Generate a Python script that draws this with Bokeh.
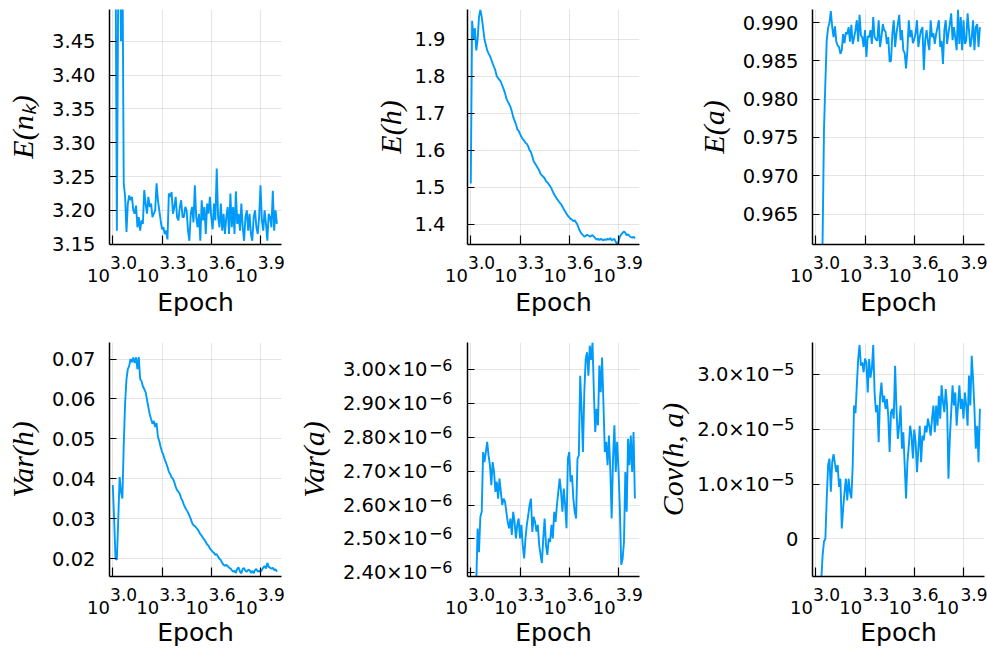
from bokeh.plotting import figure
from bokeh.layouts import row, column
from bokeh.models import Range1d, FixedTicker, LinearAxis, LogAxis
from bokeh.embed import file_html
from bokeh.resources import INLINE

# ---------------- data ----------------
epochs = [1000, 1019, 1039, 1059, 1080, 1101, 1122, 1144, 1166, 1189,
          1212, 1235, 1259, 1283, 1308, 1334, 1359, 1386, 1413, 1440,
          1468, 1496, 1525, 1555, 1585, 1616, 1647, 1679, 1711, 1745,
          1778, 1813, 1848, 1884, 1920, 1957, 1995, 2034, 2073, 2114,
          2154, 2196, 2239, 2282, 2326, 2371, 2417, 2464, 2512, 2561,
          2610, 2661, 2712, 2765, 2818, 2873, 2929, 2985, 3043, 3102,
          3162, 3224, 3286, 3350, 3415, 3481, 3548, 3617, 3687, 3758,
          3831, 3905, 3981, 4058, 4137, 4217, 4299, 4382, 4467, 4553,
          4642, 4732, 4823, 4917, 5012, 5109, 5208, 5309, 5412, 5517,
          5623, 5732, 5843, 5957, 6072, 6190, 6310, 6432, 6556, 6683,
          6813, 6945, 7079, 7217, 7356, 7499, 7644, 7792, 7943, 8097,
          8254, 8414, 8577, 8743, 8913, 9085, 9261, 9441, 9624, 9810,
          10000]

e_nk = [3.62, 3.58, 3.60, 3.17, 3.55, 3.62, 3.45, 3.60, 3.24, 3.22,
        3.168, 3.21, 3.222, 3.215, 3.22, 3.20, 3.195, 3.207, 3.175, 3.19,
        3.17, 3.185, 3.18, 3.23, 3.21, 3.195, 3.22, 3.205, 3.21, 3.19,
        3.195, 3.20, 3.24, 3.215, 3.20, 3.185, 3.172, 3.175, 3.165, 3.17,
        3.157, 3.225, 3.22, 3.227, 3.195, 3.205, 3.22, 3.19, 3.185, 3.205,
        3.215, 3.19, 3.19, 3.205, 3.20, 3.17, 3.155, 3.195, 3.205, 3.182,
        3.237, 3.19, 3.175, 3.195, 3.155, 3.215, 3.185, 3.205, 3.165, 3.21,
        3.195, 3.22, 3.19, 3.172, 3.21, 3.185, 3.262, 3.19, 3.175, 3.21,
        3.17, 3.195, 3.165, 3.19, 3.205, 3.165, 3.225, 3.175, 3.205, 3.165,
        3.228, 3.18, 3.195, 3.17, 3.21, 3.175, 3.155, 3.19, 3.20, 3.17,
        3.195, 3.165, 3.155, 3.19, 3.20, 3.175, 3.165, 3.19, 3.237, 3.185,
        3.17, 3.20, 3.18, 3.155, 3.195, 3.19, 3.175, 3.229, 3.17, 3.20,
        3.18]

e_h = [1.51, 1.95, 1.90, 1.93, 1.87, 1.90, 1.96, 1.98, 1.96, 1.93,
       1.90, 1.885, 1.87, 1.862, 1.855, 1.845, 1.835, 1.825, 1.815, 1.80,
       1.795, 1.79, 1.785, 1.775, 1.765, 1.755, 1.74, 1.732, 1.725, 1.717,
       1.705, 1.69, 1.68, 1.67, 1.657, 1.652, 1.644, 1.636, 1.630, 1.626,
       1.62, 1.617, 1.61, 1.60, 1.595, 1.583, 1.57, 1.564, 1.558, 1.552,
       1.545, 1.536, 1.532, 1.528, 1.524, 1.516, 1.513, 1.508, 1.502, 1.496,
       1.488, 1.48, 1.474, 1.468, 1.463, 1.458, 1.454, 1.447, 1.44, 1.434,
       1.428, 1.422, 1.418, 1.414, 1.412, 1.408, 1.41, 1.404, 1.398, 1.388,
       1.38, 1.374, 1.370, 1.366, 1.368, 1.371, 1.369, 1.366, 1.368, 1.370,
       1.366, 1.362, 1.358, 1.36, 1.357, 1.360, 1.358, 1.356, 1.359, 1.357,
       1.360, 1.358, 1.362, 1.356, 1.358, 1.360, 1.352, 1.346, 1.352, 1.366,
       1.372, 1.376, 1.380, 1.376, 1.370, 1.372, 1.368, 1.365, 1.363, 1.366,
       1.361]

e_a = [0.930, 0.935, 0.940, 0.945, 0.952, 0.962, 0.976, 0.9822, 0.9877, 0.9893,
       0.9900, 0.9915, 0.9894, 0.9881, 0.9895, 0.9875, 0.9870, 0.9868, 0.9859, 0.9864,
       0.9885, 0.9873, 0.9887, 0.9885, 0.9894, 0.9875, 0.9897, 0.9872, 0.9880, 0.9890,
       0.9903, 0.9875, 0.9910, 0.9883, 0.9881, 0.9868, 0.9890, 0.9855, 0.9882, 0.9881,
       0.9890, 0.9872, 0.9907, 0.9881, 0.9878, 0.9876, 0.9903, 0.9868, 0.9881, 0.9898,
       0.9890, 0.9888, 0.9872, 0.9881, 0.9849, 0.9850, 0.9886, 0.9903, 0.9868, 0.9886,
       0.9898, 0.9910, 0.9877, 0.9890, 0.9864, 0.9860, 0.9840, 0.9864, 0.9903, 0.9881,
       0.9890, 0.9873, 0.9878, 0.9886, 0.9903, 0.9868, 0.9881, 0.9890, 0.9894, 0.9838,
       0.9877, 0.9890, 0.9875, 0.9864, 0.9903, 0.9881, 0.9886, 0.9872, 0.9885, 0.9894,
       0.9903, 0.9868, 0.9876, 0.9846, 0.9890, 0.9903, 0.9872, 0.9886, 0.9898, 0.9912,
       0.9877, 0.9894, 0.9880, 0.9864, 0.9917, 0.9872, 0.9907, 0.9864, 0.9903, 0.9872,
       0.9876, 0.9912, 0.9890, 0.9868, 0.9880, 0.9903, 0.9864, 0.9894, 0.9898, 0.9868,
       0.9894]

var_h = [0.0385, 0.0300, 0.0200, 0.0198, 0.0300, 0.0405, 0.0368, 0.0351, 0.0484, 0.0590,
         0.0650, 0.0675, 0.0683, 0.0700, 0.0692, 0.0704, 0.0690, 0.0704, 0.0675, 0.0705,
         0.0650, 0.0645, 0.0632, 0.0625, 0.0617, 0.0598, 0.0580, 0.0562, 0.0550, 0.0538,
         0.0545, 0.0530, 0.0540, 0.0505, 0.0495, 0.0480, 0.0468, 0.0460, 0.0448, 0.0440,
         0.0430, 0.0418, 0.0412, 0.0404, 0.0400, 0.0392, 0.0380, 0.0372, 0.0368, 0.0362,
         0.0352, 0.0345, 0.0335, 0.0328, 0.0322, 0.0316, 0.0308, 0.0300, 0.0290, 0.0284,
         0.0282, 0.0278, 0.0274, 0.0268, 0.0262, 0.0258, 0.0252, 0.0248, 0.0242, 0.0236,
         0.0233, 0.0226, 0.0222, 0.0218, 0.0215, 0.0210, 0.0212, 0.0205, 0.0200, 0.0197,
         0.0190, 0.0185, 0.0183, 0.0185, 0.0182, 0.0178, 0.0176, 0.0172, 0.0168, 0.0170,
         0.0165, 0.0176, 0.0178, 0.0168, 0.0164, 0.0175, 0.0177, 0.0170, 0.0168, 0.0173,
         0.0172, 0.0165, 0.0170, 0.0164, 0.0172, 0.0175, 0.0168, 0.0170, 0.0168, 0.0172,
         0.0178, 0.0182, 0.0176, 0.0190, 0.0180, 0.0178, 0.0175, 0.0178, 0.0172, 0.0174,
         0.0168]

# Var(a), in units of 1e-6
var_a_e6 = [2.30, 2.25, 2.28, 2.33, 2.37, 2.53, 2.46, 2.565, 2.58, 2.757,
            2.727, 2.757, 2.787, 2.747, 2.718, 2.659, 2.727, 2.698, 2.639, 2.669,
            2.619, 2.678, 2.639, 2.60, 2.619, 2.610, 2.58, 2.55, 2.531, 2.56,
            2.511, 2.58, 2.55, 2.501, 2.541, 2.56, 2.501, 2.541, 2.48, 2.442,
            2.501, 2.541, 2.57, 2.60, 2.619, 2.52, 2.565, 2.55, 2.521, 2.541,
            2.482, 2.452, 2.428, 2.501, 2.56, 2.48, 2.452, 2.501, 2.491, 2.541,
            2.501, 2.58, 2.55, 2.60, 2.64, 2.678, 2.639, 2.58, 2.649, 2.60,
            2.531, 2.737, 2.757, 2.669, 2.688, 2.619, 2.58, 2.56, 2.737, 2.747,
            2.983, 2.885, 2.757, 2.934, 3.032, 3.052, 2.983, 3.072, 3.03, 3.082,
            2.934, 2.816, 2.885, 2.836, 3.013, 2.934, 3.037, 2.90, 2.757, 2.787,
            2.718, 2.806, 2.708, 2.56, 2.737, 2.836, 2.698, 2.787, 2.708, 2.59,
            2.423, 2.44, 2.49, 2.698, 2.58, 2.796, 2.718, 2.806, 2.698, 2.816,
            2.619]

# Cov(h, a), in units of 1e-5
cov_ha_e5 = [-1.5, -1.3, -1.1, -0.9, -0.75, -0.3, -0.05, 0.0, 0.736, 1.35,
             1.467, 0.86, 1.40, 1.55, 1.38, 1.22, 1.35, 0.95, 1.10, 0.19,
             0.55, 0.85, 1.10, 0.70, 1.10, 0.85, 0.74, 1.35, 2.44, 2.30,
             2.80, 3.29, 3.55, 3.17, 3.23, 3.05, 3.30, 3.23, 2.68, 3.29,
             2.95, 3.11, 3.55, 2.68, 2.32, 2.45, 1.77, 2.60, 2.86, 2.50,
             2.62, 2.38, 2.56, 2.25, 1.59, 2.32, 2.38, 2.20, 3.17, 2.38,
             1.83, 2.07, 2.44, 1.65, 1.95, 1.35, 0.74, 1.40, 1.70, 2.07,
             1.89, 1.47, 2.00, 1.77, 1.22, 1.65, 2.07, 1.40, 1.89, 1.80,
             2.07, 1.95, 2.20, 2.07, 1.89, 2.20, 2.44, 1.95, 2.44, 2.07,
             2.62, 2.20, 2.81, 2.50, 2.32, 2.74, 2.44, 1.10, 1.83, 2.32,
             2.81, 2.44, 2.68, 2.07, 2.44, 2.81, 2.38, 2.56, 2.20, 2.68,
             2.44, 2.07, 2.99, 2.44, 3.35, 2.93, 2.38, 1.65, 2.07, 1.40,
             2.38]

# ticks
x_ticks = [1000.0, 1995.262, 3981.072, 7943.282]
x_tick_base = "10"
x_tick_exps = ["3.0", "3.3", "3.6", "3.9"]

nk_ticks = [3.15, 3.20, 3.25, 3.30, 3.35, 3.40, 3.45]
nk_labels = ["3.15", "3.20", "3.25", "3.30", "3.35", "3.40", "3.45"]
h_ticks = [1.4, 1.5, 1.6, 1.7, 1.8, 1.9]
h_labels = ["1.4", "1.5", "1.6", "1.7", "1.8", "1.9"]
a_ticks = [0.965, 0.970, 0.975, 0.980, 0.985, 0.990]
a_labels = ["0.965", "0.970", "0.975", "0.980", "0.985", "0.990"]
vh_ticks = [0.02, 0.03, 0.04, 0.05, 0.06, 0.07]
vh_labels = ["0.02", "0.03", "0.04", "0.05", "0.06", "0.07"]
va_ticks = [2.4e-6, 2.5e-6, 2.6e-6, 2.7e-6, 2.8e-6, 2.9e-6, 3.0e-6]
va_labels = ["2.40×10", "2.50×10", "2.60×10", "2.70×10", "2.80×10", "2.90×10", "3.00×10"]
va_exp = "\u22126"
cv_ticks = [0.0, 1.0e-5, 2.0e-5, 3.0e-5]
cv_labels = ["0", "1.0×10", "2.0×10", "3.0×10"]
cv_exp = "\u22125"

# ---------------- styling / layout ----------------
X_START, X_END = 955.0, 10666.0
FRAME_W, FRAME_H = 172, 235
LINE = "#009AFA"
FONT = "DejaVu Sans"
TICK_FS = "19.5px"
SUP_FS = "16px"
SUP_FS_X = "17px"
TEN_FS = "18px"
# no-break spaces push the base left / the exponent right of the tick
PAD_BASE = "\u00a0" * 5
PAD_EXP = "\u00a0" * 4


def text_only_axis(p, side, cls, ticks, labels, font_size, standoff):
    ax = cls(ticker=FixedTicker(ticks=ticks),
             major_label_overrides=dict(zip(ticks, labels)))
    ax.axis_line_color = None
    ax.major_tick_line_color = None
    ax.minor_tick_line_color = None
    ax.major_tick_in = 0
    ax.major_tick_out = 0
    ax.major_label_text_font = FONT
    ax.major_label_text_font_size = font_size
    ax.major_label_text_color = "black"
    ax.major_label_standoff = standoff
    p.add_layout(ax, side)
    return ax


def style_ylabel(ax, text, standoff):
    ax.axis_label = text
    ax.axis_label_text_font = "Liberation Serif"
    ax.axis_label_text_font_style = "italic"
    ax.axis_label_text_font_size = "30px"
    ax.axis_label_text_color = "black"
    ax.axis_label_standoff = standoff


def panel(y, ylabel, yr, yticks, ylabels, width, height, bl, br, bt, bb,
          standoff=14, exp=None, zero_label=False, xlab_standoff=-1, ylab_standoff=10):
    p = figure(width=width, height=height, x_axis_type="log",
               x_range=Range1d(X_START, X_END), y_range=Range1d(*yr),
               output_backend="svg", toolbar_location=None, title=None,
               min_border_left=bl, min_border_right=br,
               min_border_top=bt, min_border_bottom=bb)
    p.outline_line_color = None
    p.background_fill_color = "white"
    p.border_fill_color = "white"
    p.line(epochs, y, line_color=LINE, line_width=1.9)

    xt = FixedTicker(ticks=x_ticks)
    yt = FixedTicker(ticks=yticks)
    xa = p.xaxis[0]
    ya = p.yaxis[0]
    xa.ticker = xt
    ya.ticker = yt
    p.xgrid[0].ticker = xt
    p.ygrid[0].ticker = yt
    for g in (p.xgrid[0], p.ygrid[0]):
        g.grid_line_color = "black"
        g.grid_line_alpha = 0.1
        g.grid_line_width = 1

    for ax in (xa, ya):
        ax.axis_line_color = "black"
        ax.axis_line_width = 1.5
        ax.major_tick_line_color = "black"
        ax.major_tick_line_width = 1.2
        ax.minor_tick_line_color = None
        ax.major_tick_out = 0
        ax.major_label_text_font = FONT
        ax.major_label_text_font_size = TICK_FS
        ax.major_label_text_color = "black"
    xa.major_tick_in = 9
    ya.major_tick_in = 7

    # x tick labels "10^{3.0}": exponent and base drawn by two label-only axes
    xa.major_label_overrides = {t: "" for t in x_ticks}
    xa.major_label_standoff = 0
    text_only_axis(p, "below", LogAxis, x_ticks,
                   [PAD_EXP + e for e in x_tick_exps], SUP_FS_X, 8)
    ax10 = text_only_axis(p, "below", LogAxis, x_ticks,
                          [x_tick_base + PAD_BASE] * len(x_ticks), TEN_FS, -11)
    ax10.axis_label = "Epoch"
    ax10.axis_label_text_font = FONT
    ax10.axis_label_text_font_style = "normal"
    ax10.axis_label_text_font_size = "25px"
    ax10.axis_label_text_color = "black"
    ax10.axis_label_standoff = xlab_standoff

    if exp is None:
        ya.major_label_overrides = dict(zip(yticks, ylabels))
        ya.major_label_standoff = standoff
        style_ylabel(ya, ylabel, ylab_standoff)
    else:
        dy = 5.5 * (yr[1] - yr[0]) / FRAME_H
        if zero_label:
            ya.major_label_overrides = {t: (l if t == 0 else "") for t, l in zip(yticks, ylabels)}
            ya.major_label_standoff = 14
            sup_standoff = -11
        else:
            ya.major_label_overrides = {t: "" for t in yticks}
            ya.major_label_standoff = 0
            sup_standoff = 15
        exp_ticks = [t + dy for t in yticks if t != 0]
        text_only_axis(p, "left", LinearAxis, exp_ticks, [exp] * len(exp_ticks), SUP_FS, sup_standoff)
        man_ticks = [t for t in yticks if t != 0]
        man_labels = [l for t, l in zip(yticks, ylabels) if t != 0]
        axm = text_only_axis(p, "left", LinearAxis, man_ticks, man_labels, TICK_FS, -2)
        style_ylabel(axm, ylabel, ylab_standoff)
    return p


p1 = panel(e_nk, "E(nₖ)", (3.1495, 3.4970), nk_ticks, nk_labels, 289, 325, 109, 8, 9, 81)
p2 = panel(e_h, "E(h)", (1.3447, 1.9806), h_ticks, h_labels, 358, 325, 178, 8, 9, 81,
           standoff=22, ylab_standoff=4)
p3 = panel(e_a, "E(a)", (0.96102, 0.99170), a_ticks, a_labels, 340, 325, 165, 3, 9, 81)
p4 = panel(var_h, "Var(h)", (0.01559, 0.074136), vh_ticks, vh_labels, 289, 324, 109, 8, 17, 72,
           xlab_standoff=-3)
p5 = panel([v * 1e-6 for v in var_a_e6], "Var(a)", (2.3882e-6, 3.0814e-6), va_ticks, va_labels,
           358, 324, 178, 8, 17, 72, exp=va_exp, xlab_standoff=-3)
p6 = panel([v * 1e-5 for v in cov_ha_e5], "Cov(h, a)", (-0.6916e-5, 3.5949e-5), cv_ticks, cv_labels,
           340, 324, 165, 3, 17, 72, exp=cv_exp, zero_label=True, ylab_standoff=5, xlab_standoff=-3)

layout = column(row(p1, p2, p3), row(p4, p5, p6))

with open("out.html", "w") as f:
    f.write(file_html(layout, INLINE))
